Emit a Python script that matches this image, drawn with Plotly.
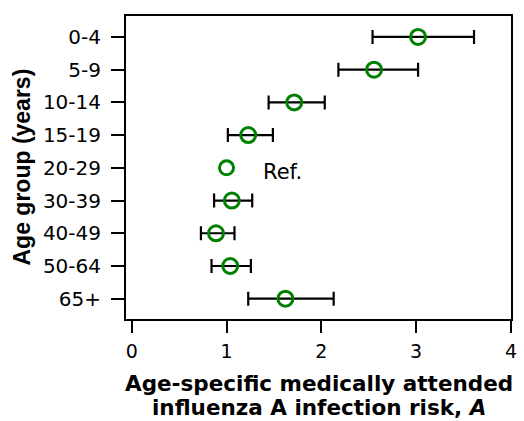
import plotly.graph_objects as go

age_groups = ["0-4", "5-9", "10-14", "15-19", "20-29", "30-39", "40-49", "50-64", "65+"]
risk = [3.02, 2.556, 1.714, 1.229, 1.0, 1.056, 0.889, 1.039, 1.621]
ci_low = [2.54, 2.18, 1.444, 1.014, None, 0.869, 0.730, 0.842, 1.229]
ci_high = [3.61, 3.02, 2.036, 1.489, None, 1.271, 1.084, 1.257, 2.13]
ref_group = "20-29"
x_ticks = [0, 1, 2, 3, 4]

SANS = "DejaVu Sans, Verdana, sans-serif"
ARIAL = "Liberation Sans, Arial, sans-serif"
GREEN = "#008000"

idx = list(range(len(age_groups)))
ci_idx = [i for i in idx if ci_low[i] is not None]

fig = go.Figure()
fig.add_trace(go.Scatter(
    x=[risk[i] for i in ci_idx],
    y=ci_idx,
    mode="markers",
    marker=dict(symbol="circle-open", size=15, color=GREEN, line=dict(width=3, color=GREEN)),
    error_x=dict(
        type="data", symmetric=False,
        array=[ci_high[i] - risk[i] for i in ci_idx],
        arrayminus=[risk[i] - ci_low[i] for i in ci_idx],
        color="black", thickness=2.2, width=7,
    ),
    showlegend=False,
))
ri = age_groups.index(ref_group)
fig.add_trace(go.Scatter(
    x=[risk[ri]], y=[ri], mode="markers",
    marker=dict(symbol="circle-open", size=14, color=GREEN, line=dict(width=3, color=GREEN)),
    showlegend=False,
))
fig.add_annotation(x=1.36, y=ri, text="Ref.", showarrow=False, xanchor="left",
                   yanchor="middle", yshift=-4, font=dict(size=21, color="black", family=SANS))

# axis titles
fig.add_annotation(xref="paper", yref="paper", x=0, y=0.5, xshift=-105, textangle=-90,
                   xanchor="center", yanchor="middle", showarrow=False,
                   text="<b>Age group (years)</b>", font=dict(size=23, family=ARIAL, color="black"))
fig.add_annotation(xref="paper", yref="paper", x=0.5, y=0, yshift=-64,
                   xanchor="center", yanchor="middle", showarrow=False, borderpad=0,
                   text="<b>Age-specific medically attended</b>",
                   font=dict(size=21.5, family=SANS, color="black"))
fig.add_annotation(xref="paper", yref="paper", x=0.5, y=0, yshift=-88,
                   xanchor="center", yanchor="middle", showarrow=False, borderpad=0,
                   text="<b>influenza A infection risk, <i>A</i></b>",
                   font=dict(size=21.5, family=SANS, color="black"))

fig.update_layout(
    width=524, height=421,
    margin=dict(l=126, r=7, t=16, b=102),
    plot_bgcolor="white", paper_bgcolor="white",
    font=dict(family=SANS, color="black"),
    xaxis=dict(
        range=[-0.06, 4.0], tickvals=x_ticks, ticktext=[str(t) for t in x_ticks],
        showgrid=False, zeroline=False, showline=True, linecolor="black", linewidth=2,
        mirror=True, ticks="outside", ticklen=12, tickwidth=2, tickcolor="black",
        tickfont=dict(size=19), ticklabelstandoff=2,
    ),
    yaxis=dict(
        range=[8.62, -0.64], tickvals=idx, ticktext=age_groups,
        showgrid=False, zeroline=False, showline=True, linecolor="black", linewidth=2,
        mirror=True, ticks="outside", ticklen=13, tickwidth=2, tickcolor="black",
        tickfont=dict(size=20), ticklabelstandoff=6,
    ),
)

fig.write_html("out.html", config={"displayModeBar": False},
               post_script="document.body.style.margin='0';document.body.style.overflow='hidden';")
